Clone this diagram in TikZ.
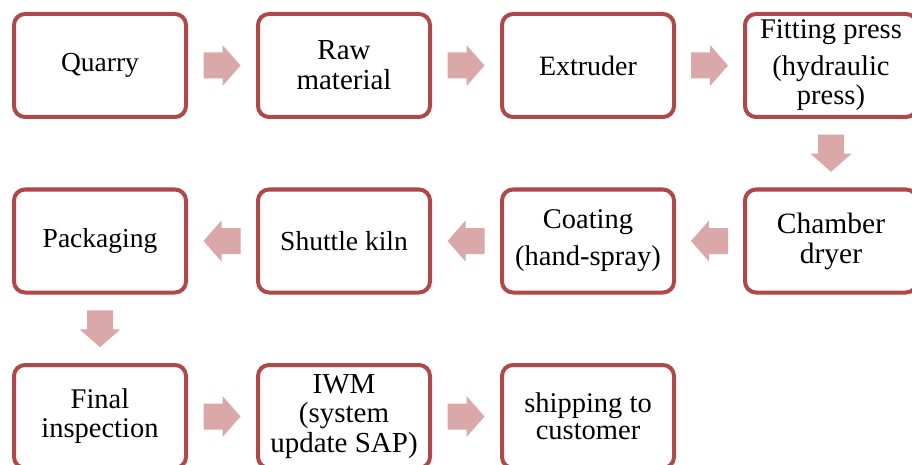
\documentclass[tikz,border=0pt]{standalone}
\usepackage{fontspec}
\setmainfont{Liberation Serif}
\usetikzlibrary{calc}

\definecolor{boxline}{RGB}{175,72,72}
\definecolor{arrowfill}{RGB}{218,168,168}

\tikzset{
  stepbox/.style={draw=boxline, line width=4pt, fill=white, rounded corners=11pt,
    minimum width=172pt, minimum height=103pt, inner sep=0pt, align=center,
    text=black},
  fs/.style n args={2}{font=\fontsize{#1pt}{#2pt}\selectfont},
}

% block arrow centred between two named points, rotated by the given angle
\newcommand\flowarrow[3]{%
  \begin{scope}[shift={($(#1)!0.5!(#2)$)}, rotate=#3]
    \fill[arrowfill] (-18.5,-13) -- (0.5,-13) -- (0.5,-20.5) -- (18.5,0)
      -- (0.5,20.5) -- (0.5,13) -- (-18.5,13) -- cycle;
  \end{scope}}

\begin{document}
\begin{tikzpicture}[x=1pt, y=-1pt]
  \useasboundingbox[fill=white] (0,0) rectangle (912,465);

  % first row
  \node[stepbox, fs={27.5}{29}] (quarry) at (100,65.5) {Quarry\vphantom{g}};
  \node[stepbox, fs={29}{30}]   (raw)    at (344,65.5) {Raw\\material};
  \node[stepbox, fs={28}{30}]   (extr)   at (588,65.5) {Extruder};
  \node[stepbox, fs={28.5}{29}] (fit)    at (831,65.5) {Fitting press\\[8pt](hydraulic\\press)};

  % second row
  \node[stepbox, fs={29.5}{30}] (dryer)  at (831,241) {Chamber\\dryer};
  \node[stepbox, fs={28.5}{30}] (coat)   at (588,241) {Coating\\[7pt](hand-spray)};
  \node[stepbox, fs={27.5}{30}] (kiln)   at (344,241) {Shuttle kiln};
  \node[stepbox, fs={27.5}{30}] (pack)   at (100,241) {Packaging};

  % third row
  \node[stepbox, fs={28.5}{29}] (final)  at (100,416.5) {Final\\inspection};
  \node[stepbox, fs={29}{29.5}] (iwm)    at (344,416.5) {IWM\\(system\\update SAP)};
  \node[stepbox, fs={28.5}{27}] (ship)   at (588,416.5) {shipping to\\customer};

  % connectors
  \flowarrow{quarry.east}{raw.west}{0}
  \flowarrow{raw.east}{extr.west}{0}
  \flowarrow{extr.east}{fit.west}{0}
  \flowarrow{fit.south}{dryer.north}{-90}
  \flowarrow{dryer.west}{coat.east}{180}
  \flowarrow{coat.west}{kiln.east}{180}
  \flowarrow{kiln.west}{pack.east}{180}
  \flowarrow{pack.south}{final.north}{-90}
  \flowarrow{final.east}{iwm.west}{0}
  \flowarrow{iwm.east}{ship.west}{0}
\end{tikzpicture}
\end{document}
